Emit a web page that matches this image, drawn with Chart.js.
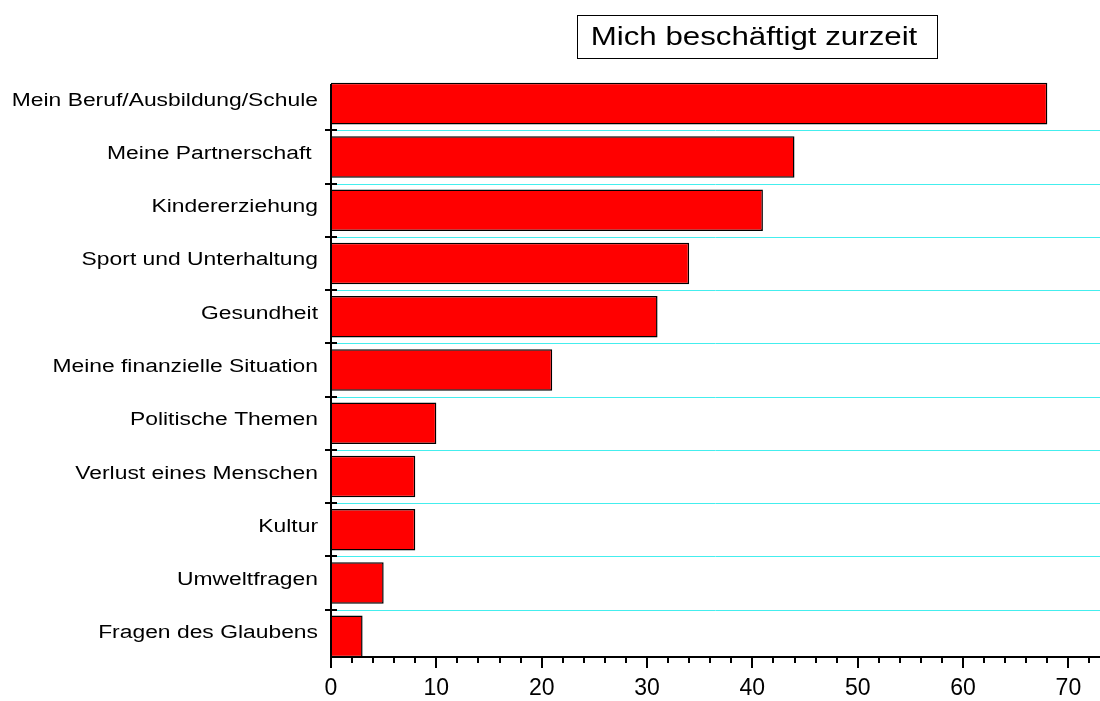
<!DOCTYPE html>
<html>
<head>
<meta charset="utf-8">
<script src="https://cdn.jsdelivr.net/npm/chart.js@4/dist/chart.umd.min.js"></script>
<style>
  html, body { margin: 0; padding: 0; background: #fff; }
  #wrap { width: 1100px; height: 701px; }
</style>
</head>
<body>
<div id="wrap"><canvas id="chart"></canvas></div>
<script>
// chart data
const chartTitle = 'Mich beschäftigt zurzeit';
const categories = [
  'Mein Beruf/Ausbildung/Schule',
  'Meine Partnerschaft ',
  'Kindererziehung',
  'Sport und Unterhaltung',
  'Gesundheit',
  'Meine finanzielle Situation',
  'Politische Themen',
  'Verlust eines Menschen',
  'Kultur',
  'Umweltfragen',
  'Fragen des Glaubens'
];
const counts = [68, 44, 41, 34, 31, 21, 10, 8, 8, 5, 3];
const xMax = 73;
const xStep = 10;
const xMinorStep = 2;

const FONT = "'Liberation Sans', Arial, sans-serif";
const STRETCH = 1.27;   // the original text is set wide

// cyan separators between categories, under the bars
const gridDecor = {
  id: 'gridDecor',
  beforeDatasetsDraw(chart) {
    const ctx = chart.ctx;
    const area = chart.chartArea;
    const ys = chart.scales.y;
    ctx.save();
    ctx.strokeStyle = '#44eeee';
    ctx.lineWidth = 1;
    for (let i = 0; i < categories.length - 1; i++) {
      const py = Math.round((ys.getPixelForValue(i) + ys.getPixelForValue(i + 1)) / 2) + 0.5;
      ctx.beginPath();
      ctx.moveTo(area.left, py);
      ctx.lineTo(area.right, py);
      ctx.stroke();
    }
    ctx.restore();
  }
};

// axis lines, ticks, category labels and the boxed title
const axisDecor = {
  id: 'axisDecor',
  afterDraw(chart) {
    const ctx = chart.ctx;
    const area = chart.chartArea;
    const xs = chart.scales.x;
    const ys = chart.scales.y;
    const axisTop = 84;
    const axisY = 657;
    ctx.save();
    ctx.strokeStyle = '#000';
    ctx.lineWidth = 2;

    ctx.beginPath();
    ctx.moveTo(area.left, axisTop);
    ctx.lineTo(area.left, axisY);
    ctx.lineTo(area.right, axisY);
    ctx.stroke();

    // x ticks: major and minor
    for (let v = 0; v <= xMax; v += xMinorStep) {
      const px = Math.round(xs.getPixelForValue(v));
      const major = v % xStep === 0;
      ctx.beginPath();
      ctx.moveTo(px, axisY);
      ctx.lineTo(px, axisY + (major ? 11 : 6));
      ctx.stroke();
    }

    // y ticks between categories, crossing the axis
    for (let i = 0; i < categories.length - 1; i++) {
      const py = Math.round((ys.getPixelForValue(i) + ys.getPixelForValue(i + 1)) / 2);
      ctx.beginPath();
      ctx.moveTo(area.left - 6, py);
      ctx.lineTo(area.left + 6, py);
      ctx.stroke();
    }

    // category labels
    ctx.fillStyle = '#000';
    ctx.font = '18px ' + FONT;
    ctx.textAlign = 'right';
    ctx.textBaseline = 'middle';
    categories.forEach((c, i) => {
      ctx.save();
      ctx.translate(318, ys.getPixelForValue(i) - 3);
      ctx.scale(STRETCH, 1);
      ctx.fillText(c, 0, 0);
      ctx.restore();
    });

    // title box
    ctx.lineWidth = 1;
    ctx.strokeRect(577.5, 15.5, 360, 43);
    ctx.font = '25px ' + FONT;
    ctx.textAlign = 'center';
    ctx.save();
    ctx.translate(754, 38);
    ctx.scale(1.25, 1);
    ctx.fillText(chartTitle, 0, 0);
    ctx.restore();
    ctx.restore();
  }
};

new Chart(document.getElementById('chart'), {
  type: 'bar',
  data: {
    labels: categories,
    datasets: [{
      data: counts,
      backgroundColor: '#ff0000',
      borderColor: '#000',
      borderWidth: 1.5,
      categoryPercentage: 1,
      barPercentage: 0.78
    }]
  },
  options: {
    indexAxis: 'y',
    responsive: true,
    maintainAspectRatio: false,
    animation: false,
    layout: { padding: { top: 77, right: 0, left: 0, bottom: 0 } },
    plugins: {
      legend: { display: false },
      tooltip: { enabled: false }
    },
    scales: {
      x: {
        min: 0,
        max: xMax,
        border: { display: false },
        grid: { display: false, drawTicks: false },
        ticks: {
          stepSize: xStep,
          includeBounds: false,
          padding: 12,
          color: '#000',
          font: { family: FONT, size: 23 }
        },
        afterFit(scale) { scale.height = 38; }
      },
      y: {
        border: { display: false },
        grid: { display: false, drawTicks: false },
        ticks: { display: false },
        afterFit(scale) { scale.width = 331; }
      }
    }
  },
  plugins: [gridDecor, axisDecor]
});
</script>
</body>
</html>
